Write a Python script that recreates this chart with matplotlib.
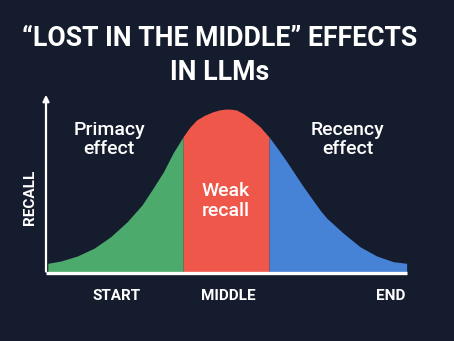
import matplotlib.pyplot as plt
import numpy as np

# position in the context (0 = start, 100 = end) and recall (% of peak)
position = [0.5, 4.1, 8.7, 13.3, 17.9, 22.5, 26.6, 29.6, 32.5, 35.2, 38.0, 39.8, 41.7,
            44.0, 46.3, 48.1, 49.9, 51.4, 52.8, 54.7, 56.5, 59.3, 61.8, 64.2, 66.7,
            71.3, 75.9, 77.8, 82.4, 87.0, 91.6, 96.2, 99.9]
recall = [5.9, 7.3, 10.4, 15.1, 22.1, 31.3, 41.5, 51.5, 61.6, 73.2, 83.2, 88.8, 93.3,
          96.3, 98.4, 99.5, 100.0, 99.9, 99.4, 97.2, 94.3, 89.2, 82.9, 75.8, 67.9,
          52.6, 38.4, 33.4, 24.2, 16.0, 10.4, 6.9, 5.9]
split_left, split_right = 38.0, 61.8
x_labels = ['START', 'MIDDLE', 'END']
x_label_pos = [19.5, 50.5, 95.5]

bg = '#151c2d'
green, red, blue = '#4cab6c', '#f0574b', '#4683d7'

W, H = 454, 341
fig = plt.figure(figsize=(W / 100, H / 100), dpi=100, facecolor=bg)
ax = fig.add_axes([46 / W, (H - 273) / H, 361 / W, 181 / H])
ax.set_facecolor(bg)
ax.set_xlim(0, 100)
ax.set_ylim(0, 110.4)
ax.axis('off')

x = np.array(position)
y = np.array(recall)
ax.fill_between(x, 0, y, where=x <= split_left, color=green, lw=0)
ax.fill_between(x, 0, y, where=(x >= split_left) & (x <= split_right), color=red, lw=0)
ax.fill_between(x, 0, y, where=x >= split_right, color=blue, lw=0)

# axes
ax.plot([0, 100], [0, 0], color='white', lw=2.4, solid_capstyle='butt', clip_on=False)
ax.annotate('', xy=(0, 110.4), xytext=(0, -0.8),
            arrowprops=dict(arrowstyle='-|>', color='white', lw=1.6,
                            mutation_scale=9), annotation_clip=False)

font = ['Roboto', 'DejaVu Sans']
for px, py, s in [(17.5, 81.5, 'Primacy\neffect'), (83.5, 81.5, 'Recency\neffect'),
                  (49.8, 44, 'Weak\nrecall')]:
    ax.text(px, py, s, ha='center', va='center', color='white', fontsize=14,
            fontweight='medium', family=font, linespacing=1.12)
ax.text(-4.4, 46, 'RECALL', ha='center', va='center', rotation=90, color='white',
        fontsize=11, fontweight='bold', family=font)
for lab, p in zip(x_labels, x_label_pos):
    ax.text(p, -13.8, lab, ha='center', va='center', color='white',
            fontsize=11, fontweight='bold', family=font)

t1 = fig.text(219.5 / W, 1 - 38 / H, '\u201cLOST IN THE MIDDLE\u201d EFFECTS', ha='center',
              va='center', color='white', fontsize=20, fontweight='bold', family=font)
t2 = fig.text(219.5 / W, 1 - 72 / H, 'IN LLMs', ha='center', va='center', color='white',
              fontsize=20, fontweight='bold', family=font)

# shrink title to the width it takes in the reference (~395 px)
r = fig.canvas.get_renderer()
w = t1.get_window_extent(r).width
size = min(20, 20 * 395 / w)
t1.set_fontsize(size)
t2.set_fontsize(size)

fig.savefig('out.png', dpi=100, facecolor=bg)
